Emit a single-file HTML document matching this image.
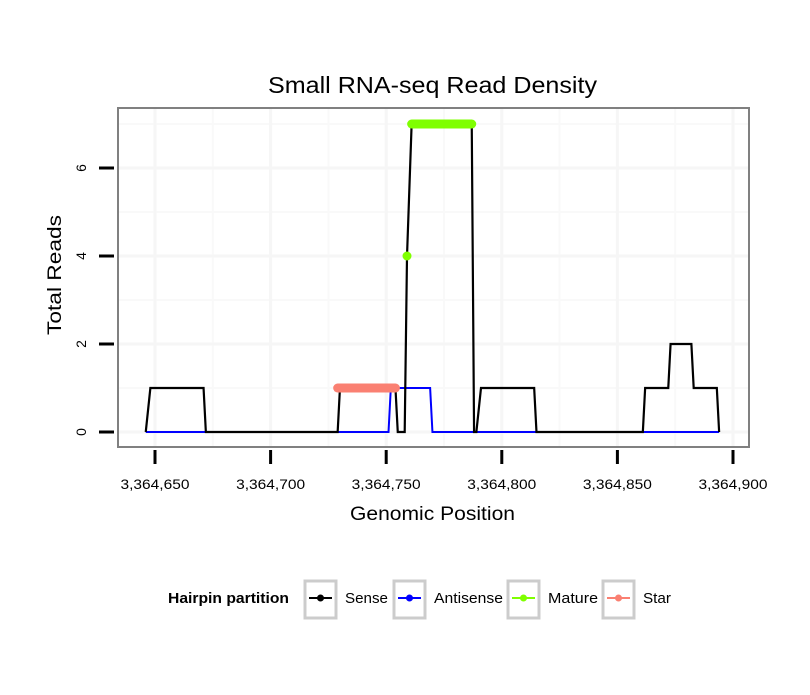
<!DOCTYPE html>
<html><head><meta charset="utf-8"><style>body{margin:0;background:#fff}svg text{font-family:"Liberation Sans",sans-serif}</style></head>
<body>
<svg width="810" height="690" xmlns="http://www.w3.org/2000/svg">
<rect width="810" height="690" fill="#fff"/>
<text x="268" y="93" font-size="23" textLength="329" lengthAdjust="spacingAndGlyphs">Small RNA-seq Read Density</text>
<g id="grid"></g>
<g id="series"></g>
<rect x="118" y="108" width="631" height="339" fill="none" stroke="#808080" stroke-width="2"/>
<g id="axes"></g>
<text x="350" y="520" font-size="19" textLength="165" lengthAdjust="spacingAndGlyphs">Genomic Position</text>
<text transform="translate(61,335) rotate(-90)" font-size="19" textLength="120" lengthAdjust="spacingAndGlyphs">Total Reads</text>
<g>
<text x="168" y="603" font-size="14.5" font-weight="bold" textLength="121" lengthAdjust="spacingAndGlyphs">Hairpin partition</text>
<g id="legend"></g>
</g>
</svg>
<script>
const BASE = 3364650;
const xTicks = [3364650, 3364700, 3364750, 3364800, 3364850, 3364900];
const xMinor = [3364675, 3364725, 3364775, 3364825, 3364875];
const yTicks = [0, 2, 4, 6];
const yMinor = [1, 3, 5, 7];
const senseX = [3364646,3364648,3364671,3364672,3364729,3364730,3364754,3364755,3364758,3364759,3364761,3364787,3364788,3364789,3364791,3364814,3364815,3364861,3364862,3364872,3364873,3364882,3364883,3364893,3364894];
const senseY = [0,1,1,0,0,1,1,0,0,4,7,7,0,0,1,1,0,0,1,1,2,2,1,1,0];
const antiX = [3364646,3364751,3364752,3364769,3364770,3364894];
const antiY = [0,0,1,1,0,0];
const matureX = [3364759,3364761,3364762,3364763,3364764,3364765,3364766,3364767,3364768,3364769,3364770,3364771,3364772,3364773,3364774,3364775,3364776,3364777,3364778,3364779,3364780,3364781,3364782,3364783,3364784,3364785,3364786,3364787];
const matureY = [4,7,7,7,7,7,7,7,7,7,7,7,7,7,7,7,7,7,7,7,7,7,7,7,7,7,7,7];
const starX = [3364729,3364730,3364731,3364732,3364733,3364734,3364735,3364736,3364737,3364738,3364739,3364740,3364741,3364742,3364743,3364744,3364745,3364746,3364747,3364748,3364749,3364750,3364751,3364752,3364753,3364754];
const starY = [1,1,1,1,1,1,1,1,1,1,1,1,1,1,1,1,1,1,1,1,1,1,1,1,1,1];
const legendLabels = ["Sense","Antisense","Mature","Star"];
const legendColors = ["#000000","#0000ff","#7fff00","#fa8072"];

const NS = "http://www.w3.org/2000/svg";
function sx(v){return 155 + (v-BASE)*2.312;}
function sy(v){return 432 - v*44;}
function mk(tag, attrs, parent){const e=document.createElementNS(NS,tag);for(const k in attrs)e.setAttribute(k,attrs[k]);parent.appendChild(e);return e;}
const grid=document.getElementById('grid'), series=document.getElementById('series'), axes=document.getElementById('axes'), legend=document.getElementById('legend');
mk('rect',{x:118,y:108,width:631,height:339,fill:'#fff'},grid);
xMinor.forEach(v=>{const l=mk('line',{x1:sx(v),x2:sx(v),y1:108,y2:447,stroke:'#f9f9f9','stroke-width':2},grid);

});
yMinor.forEach(v=>{const l=mk('line',{x1:118,x2:749,y1:sy(v),y2:sy(v),stroke:'#f9f9f9','stroke-width':2},grid);

});
xTicks.forEach(v=>{const l=mk('line',{x1:sx(v),x2:sx(v),y1:108,y2:447,stroke:'#f6f6f6','stroke-width':3},grid);

});
yTicks.forEach(v=>{const l=mk('line',{x1:118,x2:749,y1:sy(v),y2:sy(v),stroke:'#f6f6f6','stroke-width':3},grid);

});
function pts(X,Y){return X.map((x,i)=>sx(x)+','+sy(Y[i])).join(' ');}
const a=mk('polyline',{points:pts(antiX,antiY),fill:'none',stroke:'#0000ff','stroke-width':2},series);


const s=mk('polyline',{points:pts(senseX,senseY),fill:'none',stroke:'#000','stroke-width':2.2},series);


function dots(X,Y,c,name){
  const segs=[];let cur=[0];
  for(let i=1;i<X.length;i++){if(Y[i]===Y[i-1]&&X[i]-X[i-1]===1)cur.push(i);else{segs.push(cur);cur=[i];}}
  segs.push(cur);
  segs.forEach(sg=>{const x1=sx(X[sg[0]]),x2=sx(X[sg[sg.length-1]]),y=sy(Y[sg[0]]);
    const l=mk('line',{x1:x1,x2:x2,y1:y,y2:y,stroke:c,'stroke-width':9,'stroke-linecap':'round'},series);
    
    });
}
dots(starX,starY,'#fa8072','star-points');
dots(matureX,matureY,'#7fff00','mature-points');
xTicks.forEach(v=>{const l=mk('line',{x1:sx(v),x2:sx(v),y1:450,y2:464,stroke:'#000','stroke-width':3},axes);


const t=mk('text',{x:sx(v)-34.5,y:489,'font-size':14,textLength:69,lengthAdjust:'spacingAndGlyphs'},axes);t.textContent=v.toLocaleString('en-US');

});
yTicks.forEach(v=>{const l=mk('line',{x1:99,x2:114,y1:sy(v),y2:sy(v),stroke:'#000','stroke-width':3},axes);


const t=mk('text',{transform:`translate(86,${sy(v)}) rotate(-90)`,'font-size':14,'text-anchor':'middle'},axes);t.textContent=v;

});
const bx=[305,394,508,603];
const lw=[43,69,50,28];
legendLabels.forEach((lab,i)=>{const x=bx[i];
  const r=mk('rect',{x:x,y:581,width:31,height:37,fill:'#fff',stroke:'#cccccc','stroke-width':3},legend);
  
  
  mk('line',{x1:x+4,x2:x+27,y1:598,y2:598,stroke:legendColors[i],'stroke-width':2},legend);
  mk('circle',{cx:x+15.5,cy:598,r:3.5,fill:legendColors[i]},legend);
  const t=mk('text',{x:x+40,y:603,'font-size':15,textLength:lw[i],lengthAdjust:'spacingAndGlyphs'},legend);t.textContent=lab;
  
  });
</script>
</body></html>
